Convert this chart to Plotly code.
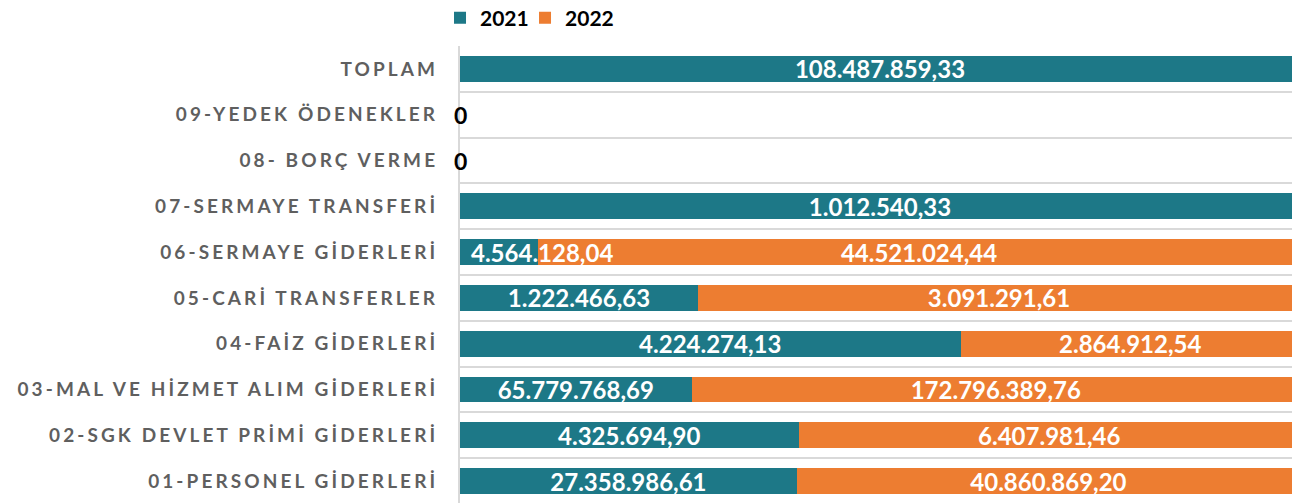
import plotly.graph_objects as go

# ---- data (top-to-bottom order as displayed) ----
categories = [
    "TOPLAM",
    "09-YEDEK ÖDENEKLER",
    "08- BORÇ VERME",
    "07-SERMAYE TRANSFERİ",
    "06-SERMAYE GİDERLERİ",
    "05-CARİ TRANSFERLER",
    "04-FAİZ GİDERLERİ",
    "03-MAL VE HİZMET ALIM GİDERLERİ",
    "02-SGK DEVLET PRİMİ GİDERLERİ",
    "01-PERSONEL GİDERLERİ",
]
values_2021 = [108487859.33, 0, 0, 1012540.33, 4564128.04, 1222466.63,
               4224274.13, 65779768.69, 4325694.90, 27358986.61]
values_2022 = [0, 0, 0, 0, 44521024.44, 3091291.61,
               2864912.54, 172796389.76, 6407981.46, 40860869.20]
series_names = ["2021", "2022"]

TEAL = "#1d7887"
ORANGE = "#ed7d31"
FONT = "Lato"


def tr_fmt(v):
    s = f"{v:,.2f}"
    return s.replace(",", "X").replace(".", ",").replace("X", ".")


# label for a too-narrow segment is drawn from the plot's left edge (like Excel)
narrow_rows = [i for i, (a, b) in enumerate(zip(values_2021, values_2022))
               if a > 0 and b > 0 and a / (a + b) < 0.12]

text_2021 = ["" if (v == 0 or i in narrow_rows) else tr_fmt(v) for i, v in enumerate(values_2021)]
text_2022 = ["" if v == 0 else tr_fmt(v) for v in values_2022]

LABEL_FONT = dict(family=FONT, size=24, color="white", weight="bold")

fig = go.Figure()
fig.add_trace(go.Bar(
    y=categories, x=values_2021, name=series_names[0], orientation="h",
    marker=dict(color=TEAL, line=dict(width=0)),
    text=text_2021, textposition="inside", insidetextanchor="middle",
    textangle=0, textfont=LABEL_FONT, legend="legend",
))
fig.add_trace(go.Bar(
    y=categories, x=values_2022, name=series_names[1], orientation="h",
    marker=dict(color=ORANGE, line=dict(width=0)),
    text=text_2022, textposition="inside", insidetextanchor="middle",
    textangle=0, textfont=LABEL_FONT, legend="legend2",
))

annotations = []
# labels of zero values, placed where the zero-length segment sits
for i, (a, b) in enumerate(zip(values_2021, values_2022)):
    tot = a + b
    pos = set()
    if a == 0:
        pos.add(0.0)
    if b == 0:
        pos.add(100.0 if tot > 0 else 0.0)
    for p in sorted(pos):
        annotations.append(dict(
            x=p, y=categories[i], xref="x", yref="y", text="0", showarrow=False,
            xanchor="center", yanchor="middle",
            font=dict(family=FONT, size=23, color="black", weight="bold"),
        ))
for i in narrow_rows:
    annotations.append(dict(
        x=0, y=categories[i], xref="x", yref="y", text=tr_fmt(values_2021[i]),
        showarrow=False, xanchor="left", yanchor="middle", xshift=9,
        font=LABEL_FONT,
    ))

ticktext = [f'<span style="letter-spacing:3.1px">{c}</span>' for c in categories]

legend_common = dict(orientation="h", xanchor="left", y=1.061, yanchor="middle",
                     font=dict(family=FONT, size=21, color="black", weight="bold"),
                     itemwidth=30, entrywidth=60, entrywidthmode="pixels",
                     bgcolor="rgba(0,0,0,0)")

# the page adds an 8px body margin, so the figure is offset by 8px right/down
fig.update_layout(
    width=1300, height=503,
    margin=dict(l=452, r=8, t=38, b=7, autoexpand=False),
    barmode="stack", barnorm="percent", bargap=0.44,
    plot_bgcolor="white", paper_bgcolor="white",
    font=dict(family=FONT),
    uniformtext=dict(mode="show", minsize=22),
    showlegend=True,
    legend=dict(x=-0.0238, **legend_common),
    legend2=dict(x=0.0774, **legend_common),
    annotations=annotations,
)
fig.update_xaxes(range=[0, 100], showgrid=False, zeroline=False,
                 showticklabels=False, showline=False, fixedrange=True)
fig.update_yaxes(type="category", categoryorder="array", categoryarray=categories,
                 range=[9.5, -0.5], tickson="boundaries", ticks="",
                 showgrid=True, gridcolor="#d9d9d9", gridwidth=2,
                 showline=True, linecolor="#d9d9d9", linewidth=2,
                 tickvals=categories, ticktext=ticktext, ticklabelstandoff=16,
                 tickfont=dict(family=FONT, size=19, color="#5f5f5f", weight="bold"),
                 fixedrange=True)

fig.write_html("out.html")
